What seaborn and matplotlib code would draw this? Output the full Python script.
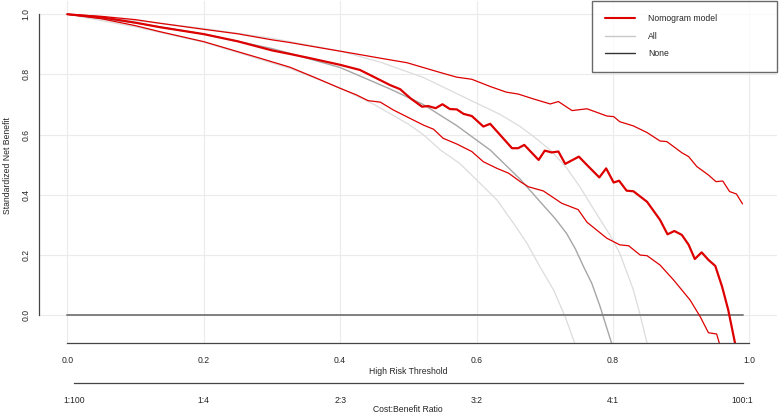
import matplotlib
matplotlib.use('Agg')
import matplotlib.pyplot as plt
from matplotlib.lines import Line2D
import seaborn as sns

# Decision curve values (threshold -> standardized net benefit)
model_x = [0.0, 0.05, 0.1, 0.136, 0.2, 0.25, 0.3, 0.3265, 0.356, 0.4, 0.429, 0.444, 0.473, 0.488,
           0.503, 0.520, 0.529, 0.540, 0.550, 0.561, 0.571, 0.581, 0.593, 0.610, 0.620, 0.637,
           0.652, 0.661, 0.670, 0.691, 0.700, 0.710, 0.720, 0.730, 0.750, 0.762, 0.780, 0.790,
           0.801, 0.809, 0.820, 0.830, 0.850, 0.869, 0.880, 0.890, 0.901, 0.911, 0.920, 0.930,
           0.940, 0.950, 0.960, 0.969, 0.979]
model_y = [1.0, 0.99, 0.972, 0.957, 0.934, 0.91, 0.88, 0.868, 0.854, 0.832, 0.815, 0.798, 0.765, 0.751,
           0.721, 0.693, 0.695, 0.688, 0.701, 0.685, 0.684, 0.669, 0.662, 0.627, 0.636, 0.593,
           0.555, 0.555, 0.566, 0.516, 0.547, 0.541, 0.544, 0.503, 0.527, 0.499, 0.458, 0.488,
           0.441, 0.447, 0.414, 0.412, 0.377, 0.317, 0.269, 0.280, 0.267, 0.234, 0.187, 0.209,
           0.184, 0.164, 0.095, 0.018, -0.093]

upper_x = [0.0, 0.05, 0.1, 0.136, 0.2, 0.25, 0.3, 0.3265, 0.375, 0.424, 0.459, 0.498, 0.522, 0.546,
           0.571, 0.593, 0.620, 0.644, 0.661, 0.683, 0.708, 0.720, 0.740, 0.762, 0.791, 0.801,
           0.810, 0.830, 0.850, 0.869, 0.879, 0.901, 0.911, 0.923, 0.940, 0.951, 0.961, 0.971,
           0.981, 0.990]
upper_y = [1.0, 0.993, 0.982, 0.970, 0.950, 0.935, 0.915, 0.906, 0.887, 0.868, 0.854, 0.839, 0.823, 0.807,
           0.791, 0.784, 0.760, 0.741, 0.735, 0.719, 0.702, 0.710, 0.680, 0.686, 0.662, 0.660,
           0.643, 0.629, 0.607, 0.579, 0.577, 0.540, 0.527, 0.494, 0.466, 0.444, 0.446, 0.411,
           0.403, 0.370]

lower_x = [0.0, 0.05, 0.1, 0.136, 0.2, 0.2825, 0.3265, 0.366, 0.4, 0.424, 0.441, 0.459, 0.478, 0.507,
           0.522, 0.537, 0.551, 0.571, 0.593, 0.610, 0.630, 0.647, 0.664, 0.676, 0.698, 0.725,
           0.749, 0.762, 0.791, 0.810, 0.823, 0.840, 0.850, 0.869, 0.889, 0.913, 0.928, 0.940,
           0.952, 0.956]
lower_y = [1.0, 0.985, 0.962, 0.942, 0.909, 0.854, 0.824, 0.787, 0.754, 0.732, 0.713, 0.708, 0.682, 0.649,
           0.632, 0.618, 0.588, 0.569, 0.544, 0.510, 0.488, 0.472, 0.444, 0.427, 0.413, 0.372,
           0.351, 0.309, 0.256, 0.234, 0.231, 0.200, 0.198, 0.167, 0.117, 0.051, -0.005, -0.058,
           -0.062, -0.093]

# "All" strategy curves
all_x = [0.0, 0.1, 0.2, 0.3, 0.3265, 0.4, 0.473, 0.522, 0.571, 0.620, 0.664, 0.698, 0.715, 0.732,
         0.745, 0.757, 0.769, 0.781, 0.798]
all_y = [1.0, 0.971, 0.934, 0.886, 0.870, 0.823, 0.752, 0.700, 0.630, 0.549, 0.452, 0.365, 0.322, 0.272,
         0.220, 0.161, 0.106, 0.030, -0.093]
all_lo_x = [0.0, 0.1, 0.2, 0.3265, 0.4, 0.45, 0.5, 0.522, 0.547, 0.575, 0.600, 0.630, 0.654, 0.674,
            0.693, 0.713, 0.730, 0.744]
all_lo_y = [1.0, 0.958, 0.907, 0.820, 0.755, 0.700, 0.635, 0.600, 0.549, 0.505, 0.450, 0.383, 0.306, 0.239,
            0.161, 0.084, -0.005, -0.093]
all_hi_x = [0.0, 0.1, 0.2, 0.3, 0.4, 0.46, 0.522, 0.595, 0.634, 0.664, 0.683, 0.710, 0.732, 0.752,
            0.771, 0.796, 0.810, 0.830, 0.840, 0.850]
all_hi_y = [1.0, 0.979, 0.953, 0.92, 0.878, 0.840, 0.790, 0.710, 0.668, 0.627, 0.595, 0.545, 0.490, 0.425,
            0.355, 0.265, 0.206, 0.084, 0.0, -0.093]

none_x = [0.0, 0.99]
none_y = [0.0, 0.0]

ticks = [0.0, 0.2, 0.4, 0.6, 0.8, 1.0]
cb_ticks = [0.01, 0.2, 0.4, 0.6, 0.8, 0.99]
cb_labels = ['1:100', '1:4', '2:3', '3:2', '4:1', '100:1']

sns.set_style('white')
plt.rcParams['font.family'] = ['Liberation Sans', 'DejaVu Sans']
FS = 6.2

W, H = 779, 415
fig = plt.figure(figsize=(W / 100, H / 100), dpi=100)
L, R, T, B = 39, 777, 1, 343
ax = fig.add_axes([L / W, 1 - B / H, (R - L) / W, (B - T) / H])

red = '#dd0000'
sns.lineplot(x=all_lo_x, y=all_lo_y, ax=ax, color='#dcdcdc', lw=0.9, sort=False, estimator=None)
sns.lineplot(x=all_hi_x, y=all_hi_y, ax=ax, color='#dcdcdc', lw=0.9, sort=False, estimator=None)
sns.lineplot(x=all_x, y=all_y, ax=ax, color='#a6a6a6', lw=1.0, sort=False, estimator=None)
sns.lineplot(x=none_x, y=none_y, ax=ax, color='#808080', lw=1.4, sort=False, estimator=None)
sns.lineplot(x=lower_x, y=lower_y, ax=ax, color=red, lw=0.9, sort=False, estimator=None)
sns.lineplot(x=upper_x, y=upper_y, ax=ax, color=red, lw=0.9, sort=False, estimator=None)
sns.lineplot(x=model_x, y=model_y, ax=ax, color=red, lw=1.6, sort=False, estimator=None)

ax.set_xlim(-0.0415, 1.0405)
ax.set_ylim(-0.092, 1.044)
ax.set_xticks(ticks)
ax.set_yticks(ticks)
ax.set_xticklabels([f'{t:.1f}' for t in ticks])
ax.set_yticklabels([f'{t:.1f}' for t in ticks])
ax.grid(True, color='#ebebeb', lw=0.8)
ax.set_axisbelow(True)
for s in ['top', 'right']:
    ax.spines[s].set_visible(False)
ax.spines['left'].set_bounds(0, 1)
ax.spines['bottom'].set_bounds(0, 1)
for s in ['left', 'bottom']:
    ax.spines[s].set_color('#444444')
    ax.spines[s].set_linewidth(0.9)
ax.tick_params(direction='out', length=3.5, width=0.9, color='#444444', labelsize=FS, pad=6)
ax.tick_params(axis='y', labelrotation=90, pad=2.8)
for lab in ax.get_yticklabels():
    lab.set_va('center')
ax.set_xlabel('')
ax.set_ylabel('')

# legend box
handles = [Line2D([], [], color=red, lw=1.5),
           Line2D([], [], color='#c8c8c8', lw=1.0),
           Line2D([], [], color='#333333', lw=1.0)]
leg = ax.legend(handles, ['Nomogram model', 'All', 'None'], loc='upper left',
                bbox_to_anchor=((592 - L) / (R - L), 0, (R - 592) / (R - L), 1.0),
                mode='expand', borderaxespad=0, fontsize=FS, frameon=True, fancybox=False,
                handlelength=3.4, handletextpad=1.6, labelspacing=0.99, borderpad=1.55)
leg.get_frame().set_edgecolor('#444444')
leg.get_frame().set_linewidth(1.0)

# cost:benefit ratio axis
ax2 = fig.add_axes([L / W, 1 - 383.3 / H, (R - L) / W, 0.0001])
ax2.set_xlim(ax.get_xlim())
ax2.patch.set_alpha(0)
ax2.set_yticks([])
for s in ['top', 'right', 'left']:
    ax2.spines[s].set_visible(False)
ax2.spines['bottom'].set_bounds(0.01, 0.99)
ax2.spines['bottom'].set_color('#444444')
ax2.spines['bottom'].set_linewidth(0.9)
ax2.set_xticks(cb_ticks)
ax2.set_xticklabels(cb_labels)
ax2.tick_params(direction='out', length=3.5, width=0.9, color='#444444', labelsize=FS, pad=6)

fig.text(408 / W, 1 - 371 / H, 'High Risk Threshold', ha='center', va='center', fontsize=FS)
fig.text(408 / W, 1 - 409 / H, 'Cost:Benefit Ratio', ha='center', va='center', fontsize=FS)
fig.text(8 / W, 1 - 166 / H, 'Standardized Net Benefit', ha='center', va='center',
         rotation=90, fontsize=FS)

fig.savefig('out.png', dpi=100)
